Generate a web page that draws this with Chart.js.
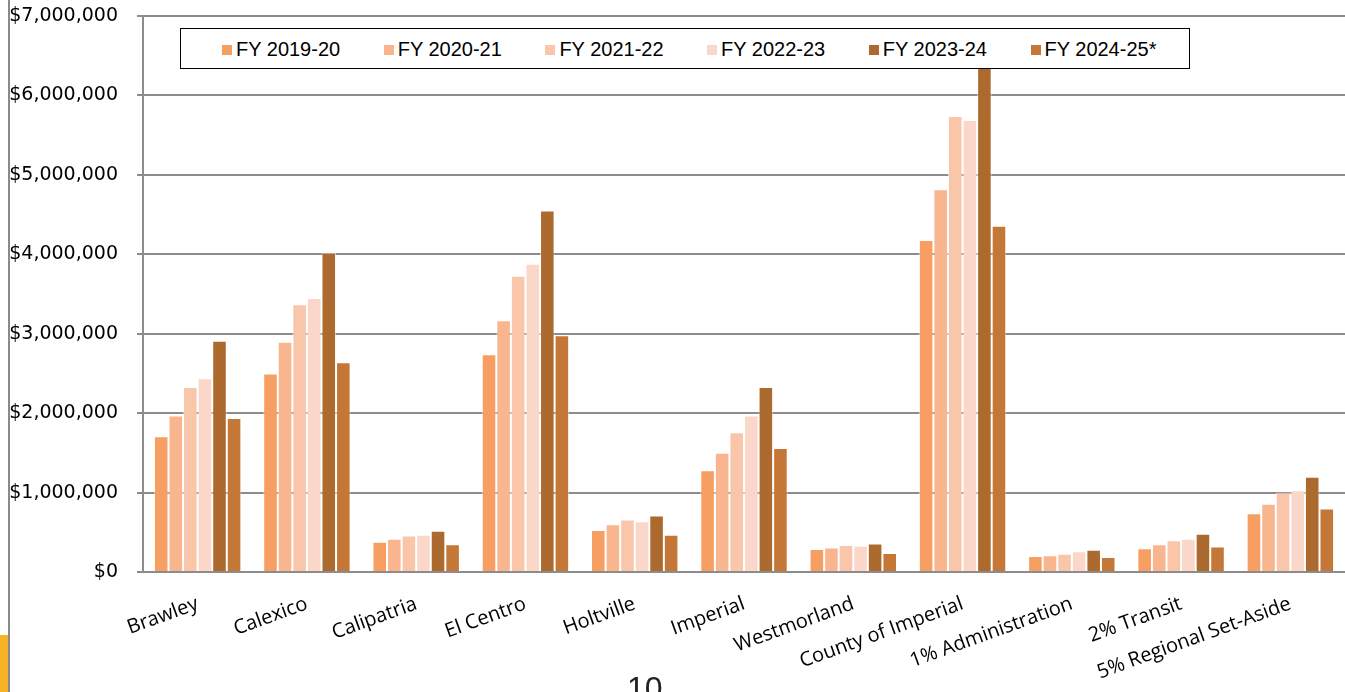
<!DOCTYPE html>
<html>
<head>
<meta charset="utf-8">
<script src="https://cdn.jsdelivr.net/npm/chart.js@4/dist/chart.umd.min.js"></script>
<style>
    body { margin: 0; width: 1345px; height: 692px; overflow: hidden; background: #fff; position: relative; }
    #wrap { position: absolute; left: 0; top: 0; width: 1345px; height: 692px; }
    #pageLine { position: absolute; left: 8px; top: 0; width: 2px; height: 692px; background: #8a8a8a; }
    #pageTab { position: absolute; left: 0; top: 635px; width: 8px; height: 57px; background: #f6b326; }
    #pageNum { position: absolute; left: 627px; top: 672px; font: 32px "Liberation Sans", Arial, sans-serif; color: #222; line-height: 1; }
    #legend { position: absolute; left: 180px; top: 28px; width: 1008px; height: 39px; background: #fff; border: 1.5px solid #000; }
    .item { position: absolute; top: 9px; font: 20px "Liberation Sans", Arial, sans-serif; color: #000; white-space: nowrap; line-height: 22px; }
    .item span.box { display: inline-block; width: 10px; height: 10px; margin-right: 4px; vertical-align: 1px; }
</style>
</head>
<body>
<div id="wrap"><canvas id="Chart" width="1345" height="692"></canvas></div>
<div id="pageLine"></div>
<div id="pageTab"></div>
<div id="legend"></div>
<div id="pageNum">10</div>
<script>
//Categories along the x axis
categories = ['Brawley', 'Calexico', 'Calipatria', 'El Centro', 'Holtville', 'Imperial', 'Westmorland',
    'County of Imperial', '1% Administration', '2% Transit', '5% Regional Set-Aside'];

//Series values
fy1920 = [1710000, 2500000, 380000, 2740000, 530000, 1280000, 290000, 4180000, 200000, 300000, 740000];
fy2021 = [1970000, 2900000, 420000, 3170000, 600000, 1500000, 310000, 4820000, 210000, 350000, 860000];
fy2122 = [2330000, 3370000, 460000, 3730000, 660000, 1760000, 340000, 5740000, 230000, 400000, 1000000];
fy2223 = [2440000, 3450000, 470000, 3880000, 640000, 1970000, 330000, 5690000, 260000, 420000, 1030000];
fy2324 = [2910000, 4020000, 520000, 4550000, 710000, 2330000, 360000, 6600000, 280000, 480000, 1200000];
fy2425 = [1940000, 2640000, 350000, 2980000, 470000, 1560000, 240000, 4360000, 190000, 320000, 800000];

seriesLabels = ['FY 2019-20', 'FY 2020-21', 'FY 2021-22', 'FY 2022-23', 'FY 2023-24', 'FY 2024-25*'];
seriesColors = ['#f79f62', '#f8b58e', '#f9c6aa', '#fad7c8', '#ad6a2e', '#c47736'];

//Y axis ticks
yMax = 7000000;
yStep = 1000000;

let series = [fy1920, fy2021, fy2122, fy2223, fy2324, fy2425];
let gridColor = '#8c8c8c';

config = {
    type: 'bar',
    data: {
        labels: categories,
        datasets: series.map(function (values, i) {
            return {
                label: seriesLabels[i],
                data: values,
                backgroundColor: seriesColors[i],
                borderColor: 'rgba(255,255,255,0.55)',
                borderWidth: 1,
                categoryPercentage: 0.8,
                barPercentage: 1.0
            };
        })
    },
    options: {
        responsive: false,
        animation: false,
        layout: { padding: { top: 16, right: 0, left: 0, bottom: 0 } },
        plugins: {
            legend: { display: false },
            tooltip: { enabled: false }
        },
        scales: {
            x: {
                grid: { display: false, drawTicks: false },
                border: { display: true, color: gridColor, width: 2 },
                ticks: {
                    autoSkip: false,
                    minRotation: 20,
                    maxRotation: 20,
                    padding: 20,
                    color: '#000',
                    font: { family: '"Open Sans", sans-serif', size: 20 }
                },
                afterFit: function (scale) { scale.height = 120; }
            },
            y: {
                min: 0,
                max: yMax,
                ticks: {
                    stepSize: yStep,
                    padding: 19,
                    color: '#000',
                    font: { family: '"DejaVu Sans", sans-serif', size: 19 },
                    callback: function (v) {
                        return '$' + v.toString().replace(/\B(?=(\d{3})+(?!\d))/g, ',');
                    }
                },
                grid: { color: gridColor, lineWidth: 2, tickLength: 6 },
                border: { display: true, color: gridColor, width: 2 },
                //fixed width, and keep the tick padding from pushing the plot top down
                afterFit: function (scale) {
                    scale.width = 143;
                    scale.paddingTop = 10;
                    scale.paddingBottom = 10;
                }
            }
        }
    }
};

window.myChart = new Chart(document.getElementById('Chart').getContext('2d'), config);

//Legend box sits over the plot, so it is built as html from the datasets
let legend = document.getElementById('legend');
myChart.data.datasets.forEach(function (ds, i) {
    let item = document.createElement('div');
    item.className = 'item';
    item.style.left = (41 + i * 161.7) + 'px';
    let box = document.createElement('span');
    box.className = 'box';
    box.style.background = ds.backgroundColor;
    item.appendChild(box);
    item.appendChild(document.createTextNode(ds.label));
    legend.appendChild(item);
});
</script>
</body>
</html>
